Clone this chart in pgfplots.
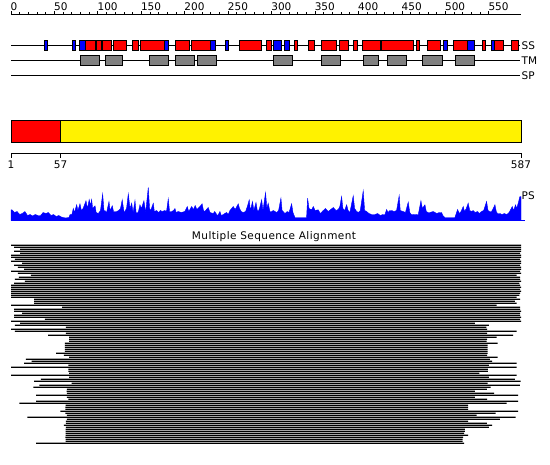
\documentclass[border=0pt]{standalone}
\usepackage{pgfplots}
\pgfplotsset{compat=1.18}
\usepackage{pgfplotstable}
\usepackage{fontspec}
\setmainfont{DejaVu Sans}

\pgfplotstableread{
res h
0 10.7
1 10.7
4 8
7 9
10 6
13 7
16 9
19 5
22 6
25 4.5
28 6
31 5
34 5
37 8
40 7
43 8
46 5
49 6
52 4
55 5
58 3.5
60 3
63 2.5
66.7 3
68 6
70 5.7
71.7 12
73 8
75.6 15.7
77 10
79.4 16.7
81 10
83 12
86.3 19.7
88 12
90 21
91.5 15
92.8 21
94 12
96.7 14.7
98 8
100.5 7
103 10
105.5 26.7
107 10
108 10
110 8
112.8 19
114 10
116.6 14.7
118 9
121.6 9
124 10
126 12
128 20.7
130 9
131 9
133 12
135 26.7
137 12
138.9 17.3
140.5 8
142.7 20
144 8
145.4 7
147 10
148.4 15.7
150 12
153 19.7
155 8
158 33
159.5 12
160.7 10
162 13
163.8 17.3
165 9
167.6 10
170 8
172 10
174 9
177 10
179 9
181 21.7
182.5 9
185 9
187 10
188.7 12
190 8
192.5 9
196 8
200 9
202.9 14
204.5 9
206 11
207.9 14
210 11
212 15
214 11
217.5 14
220 16.7
221.5 10
223 9
225 11
227 13
229 8
232.8 7
234.5 9
236.7 6
238 5
240.5 9
242 5
244.3 6
246 7
248.2 8
250 6
252 10
255.8 14
258 11
261.6 16.7
263 12
265 9
267.3 8
270 9
272 14
274.2 20.7
275.5 10
278 19
279.5 10
282 18
283.5 10
284.6 9
286 12
288.5 20.7
290 10
293 28
294.5 12
296 17.3
298 9
300 9
302 10
303.8 9
306 8
308 10
310.7 22.3
312 10
315.3 7
318 9
320 8
323 16.7
324.5 8
326.8 3
330 3
335 3
340.2 3
341.4 22.3
343 12
346 10.7
348 14
350 10
353.6 10.7
356 7
359.4 10
362 12
365 9
368 11
371 13
374 10
376.6 11
378.5 14
380.5 24
382 12
384 10
386.3 15.7
388 10
390 8
393.9 24.7
395.5 12
397.8 9
400 8
402 10
405.4 29.7
407 10
409.3 9
412 7
415 6
418.9 6
422 7
425 5
428 6
430.4 6
432.3 11
434 8
436 10
438 10
441 9
443.8 10
446.8 25
448 10
451.4 9
454 8
457.2 18.3
459 8
461 5.7
465 6
468.7 5.7
471.8 19.7
473.5 12
476.4 15.7
478 9
480 8
482.1 8
486 9
490 7
493 8
495.6 8
497 5
499.4 3
505 3
510.9 3
514 11
516 7
518 9
520.5 14
522 9
524 12
526.2 17.3
528 10
530 9
532 10
534 8
537 9
539 7
541.6 9
544 10
547.4 19
549 10
551 9
553.1 9
555 12
557 15.7
558.5 9
560 7
562.7 7
565 6
568 7
570 6
572.3 7
574 9
576.9 14
578.5 10
580.7 15.7
582 12
584 18
585.7 24
587 24
}\psdata

\pgfplotstableread{
row start end
1 0 587
2 3.5 587
3 10.4 587
4 3.5 587
5 10.4 586
6 0 587
7 0 587
8 4.6 586
9 0 587
10 12.7 587
11 3.5 586
12 8 587
13 15 587
14 0 586
15 8 587
16 23 582
17 9 586
18 4.6 586
19 16 587
20 3.5 585
21 0 586
22 0 587
23 0 586
24 0 587
25 0 586
26 0 585
27 0 582
28 26.5 586
29 26.5 580
30 26.5 582
31 0 559
32 58.7 586
33 3.5 586
34 3.5 587
35 12.7 586
36 3.5 586
37 3.5 587
38 39 586
39 0 587
40 10.4 534
41 4.6 550
42 63.3 547
43 0 548
44 4.6 582
45 63.3 548
46 42.6 578
47 67 559
48 67 548
49 67 547.4
50 62 560
51 62 548.5
52 62 548.5
53 62 548.5
54 62 548.5
55 52 548.5
56 61 548
57 67 560
58 17 551.2
59 23.8 553.8
60 15 582
61 66 550
62 0 582
63 66 549
64 66 549
65 67 539
66 0 582
67 67 550
68 34.5 580
69 26.5 586.5
70 69.8 548.5
71 32.6 585.7
72 25.7 552
73 64.4 547.7
74 64 534
75 64.4 556
76 29 583.8
77 64.4 534
78 66 548
79 29 583.8
80 9.6 570.4
81 63 526
82 62.5 526
83 62.5 526
84 56.7 583.8
85 62.5 557.7
86 64.4 536
87 18.8 580.7
88 64.4 562.7
89 63.3 526
90 63.3 547.7
91 61 553.8
92 63.3 550
93 63 522.4
94 63 522.4
95 63 521.6
96 63 526
97 62.5 520.5
98 63 519.8
99 63 519.8
100 29 521.6
}\msadata

\begin{document}
\begin{tikzpicture}
\path[use as bounding box] (0,0) rectangle (550bp,-465bp);
\pgfplotsset{base/.style={scale only axis, width=510bp, xmin=0, xmax=587, clip=false,
  /pgf/number format/assume math mode=true,
  tick label style={font=\fontsize{10.5bp}{12bp}\selectfont}}}

% top ruler
\begin{axis}[base, at={(11bp,-14.7bp)}, anchor=north west, height=5bp, ymin=0, ymax=1,
  axis x line=top, axis y line=none, axis line style={-, line width=0.8bp},
  tick align=outside, xtick={0,50,...,550}, minor x tick num=4,
  major tick length=3.7bp, minor tick length=2.3bp, tick style={black, line width=0.8bp},
  xticklabel style={anchor=south west, inner sep=0pt, xshift=-0.5bp}]
\end{axis}

% SS / TM / SP tracks
\begin{axis}[base, at={(11bp,-37.8bp)}, anchor=north west, height=45bp, ymin=0.5, ymax=3.5,
  hide x axis, axis y line=right, y axis line style={draw=none}, ytick={1,2,3},
  yticklabels={SP,TM,SS}, major tick length=0pt,
  yticklabel style={anchor=west, inner sep=0pt, xshift=0.5bp}]
\addplot[black, line width=0.8bp] coordinates {(0,3) (586,3)};
\addplot[black, line width=0.8bp] coordinates {(0,2) (586,2)};
\addplot[black, line width=0.8bp] coordinates {(0,1) (586,1)};
% SS helix (red)
\addplot[fill=red, draw=black, line width=0.7bp] coordinates {(85,2.69) (97.5,2.69) (97.5,3.31) (85,3.31)} --cycle;
\addplot[fill=red, draw=black, line width=0.7bp] coordinates {(98.6,2.69) (104.4,2.69) (104.4,3.31) (98.6,3.31)} --cycle;
\addplot[fill=red, draw=black, line width=0.7bp] coordinates {(105.5,2.69) (116,2.69) (116,3.31) (105.5,3.31)} --cycle;
\addplot[fill=red, draw=black, line width=0.7bp] coordinates {(118,2.69) (133,2.69) (133,3.31) (118,3.31)} --cycle;
\addplot[fill=red, draw=black, line width=0.7bp] coordinates {(139.6,2.69) (146.5,2.69) (146.5,3.31) (139.6,3.31)} --cycle;
\addplot[fill=red, draw=black, line width=0.7bp] coordinates {(148.8,2.69) (176.4,2.69) (176.4,3.31) (148.8,3.31)} --cycle;
\addplot[fill=red, draw=black, line width=0.7bp] coordinates {(188.7,2.69) (205.6,2.69) (205.6,3.31) (188.7,3.31)} --cycle;
\addplot[fill=red, draw=black, line width=0.7bp] coordinates {(207.5,2.69) (229.4,2.69) (229.4,3.31) (207.5,3.31)} --cycle;
\addplot[fill=red, draw=black, line width=0.7bp] coordinates {(262.7,2.69) (288.5,2.69) (288.5,3.31) (262.7,3.31)} --cycle;
\addplot[fill=red, draw=black, line width=0.7bp] coordinates {(293.8,2.69) (300,2.69) (300,3.31) (293.8,3.31)} --cycle;
\addplot[fill=red, draw=black, line width=0.7bp] coordinates {(326,2.69) (330,2.69) (330,3.31) (326,3.31)} --cycle;
\addplot[fill=red, draw=black, line width=0.7bp] coordinates {(342,2.69) (349,2.69) (349,3.31) (342,3.31)} --cycle;
\addplot[fill=red, draw=black, line width=0.7bp] coordinates {(357.5,2.69) (374.8,2.69) (374.8,3.31) (357.5,3.31)} --cycle;
\addplot[fill=red, draw=black, line width=0.7bp] coordinates {(377.8,2.69) (388.6,2.69) (388.6,3.31) (377.8,3.31)} --cycle;
\addplot[fill=red, draw=black, line width=0.7bp] coordinates {(394,2.69) (398.5,2.69) (398.5,3.31) (394,3.31)} --cycle;
\addplot[fill=red, draw=black, line width=0.7bp] coordinates {(404.3,2.69) (424.6,2.69) (424.6,3.31) (404.3,3.31)} --cycle;
\addplot[fill=red, draw=black, line width=0.7bp] coordinates {(426.5,2.69) (463,2.69) (463,3.31) (426.5,3.31)} --cycle;
\addplot[fill=red, draw=black, line width=0.7bp] coordinates {(466.4,2.69) (470.3,2.69) (470.3,3.31) (466.4,3.31)} --cycle;
\addplot[fill=red, draw=black, line width=0.7bp] coordinates {(479,2.69) (494.5,2.69) (494.5,3.31) (479,3.31)} --cycle;
\addplot[fill=red, draw=black, line width=0.7bp] coordinates {(509.4,2.69) (525,2.69) (525,3.31) (509.4,3.31)} --cycle;
\addplot[fill=red, draw=black, line width=0.7bp] coordinates {(542.4,2.69) (546.3,2.69) (546.3,3.31) (542.4,3.31)} --cycle;
\addplot[fill=red, draw=black, line width=0.7bp] coordinates {(555.8,2.69) (566.5,2.69) (566.5,3.31) (555.8,3.31)} --cycle;
\addplot[fill=red, draw=black, line width=0.7bp] coordinates {(575.7,2.69) (584.2,2.69) (584.2,3.31) (575.7,3.31)} --cycle;
% SS strand (blue)
\addplot[fill=blue, draw=black, line width=0.7bp] coordinates {(38,2.69) (42,2.69) (42,3.31) (38,3.31)} --cycle;
\addplot[fill=blue, draw=black, line width=0.7bp] coordinates {(70.6,2.69) (74.4,2.69) (74.4,3.31) (70.6,3.31)} --cycle;
\addplot[fill=blue, draw=black, line width=0.7bp] coordinates {(78.6,2.69) (85,2.69) (85,3.31) (78.6,3.31)} --cycle;
\addplot[fill=blue, draw=black, line width=0.7bp] coordinates {(176.4,2.69) (181,2.69) (181,3.31) (176.4,3.31)} --cycle;
\addplot[fill=blue, draw=black, line width=0.7bp] coordinates {(229.4,2.69) (235.5,2.69) (235.5,3.31) (229.4,3.31)} --cycle;
\addplot[fill=blue, draw=black, line width=0.7bp] coordinates {(246.6,2.69) (250.5,2.69) (250.5,3.31) (246.6,3.31)} --cycle;
\addplot[fill=blue, draw=black, line width=0.7bp] coordinates {(301.5,2.69) (310.7,2.69) (310.7,3.31) (301.5,3.31)} --cycle;
\addplot[fill=blue, draw=black, line width=0.7bp] coordinates {(314.5,2.69) (320.7,2.69) (320.7,3.31) (314.5,3.31)} --cycle;
\addplot[fill=blue, draw=black, line width=0.7bp] coordinates {(498,2.69) (502,2.69) (502,3.31) (498,3.31)} --cycle;
\addplot[fill=blue, draw=black, line width=0.7bp] coordinates {(525,2.69) (533,2.69) (533,3.31) (525,3.31)} --cycle;
\addplot[fill=blue, draw=black, line width=0.7bp] coordinates {(553,2.69) (555.8,2.69) (555.8,3.31) (553,3.31)} --cycle;
% TM (gray)
\addplot[fill=gray, draw=black, line width=0.7bp] coordinates {(79.8,1.67) (102,1.67) (102,2.33) (79.8,2.33)} --cycle;
\addplot[fill=gray, draw=black, line width=0.7bp] coordinates {(108.5,1.67) (128.5,1.67) (128.5,2.33) (108.5,2.33)} --cycle;
\addplot[fill=gray, draw=black, line width=0.7bp] coordinates {(159,1.67) (181,1.67) (181,2.33) (159,2.33)} --cycle;
\addplot[fill=gray, draw=black, line width=0.7bp] coordinates {(189,1.67) (211,1.67) (211,2.33) (189,2.33)} --cycle;
\addplot[fill=gray, draw=black, line width=0.7bp] coordinates {(214.4,1.67) (236.7,1.67) (236.7,2.33) (214.4,2.33)} --cycle;
\addplot[fill=gray, draw=black, line width=0.7bp] coordinates {(302,1.67) (324,1.67) (324,2.33) (302,2.33)} --cycle;
\addplot[fill=gray, draw=black, line width=0.7bp] coordinates {(357,1.67) (379.4,1.67) (379.4,2.33) (357,2.33)} --cycle;
\addplot[fill=gray, draw=black, line width=0.7bp] coordinates {(405,1.67) (423,1.67) (423,2.33) (405,2.33)} --cycle;
\addplot[fill=gray, draw=black, line width=0.7bp] coordinates {(433,1.67) (455,1.67) (455,2.33) (433,2.33)} --cycle;
\addplot[fill=gray, draw=black, line width=0.7bp] coordinates {(474,1.67) (497,1.67) (497,2.33) (474,2.33)} --cycle;
\addplot[fill=gray, draw=black, line width=0.7bp] coordinates {(511,1.67) (533.6,1.67) (533.6,2.33) (511,2.33)} --cycle;
\end{axis}

% domain bar
\begin{axis}[base, at={(11bp,-120.5bp)}, anchor=north west, height=22bp, ymin=0, ymax=1, hide axis]
\addplot[fill=red, draw=black, line width=0.8bp] coordinates {(0,0) (57,0) (57,1) (0,1)} --cycle;
\addplot[fill=yellow, draw=black, line width=0.8bp] coordinates {(57,0) (587,0) (587,1) (57,1)} --cycle;
\end{axis}

% bottom ruler
\begin{axis}[base, at={(11bp,-153bp)}, anchor=south west, height=5bp, ymin=0, ymax=1,
  axis x line=bottom, axis y line=none, axis line style={-, line width=0.8bp},
  tick align=outside, xtick={0,57,587}, xticklabels={1,57,587},
  major tick length=4.5bp, tick style={black, line width=0.8bp},
  xticklabel style={anchor=north, inner sep=0pt, yshift=-3bp}]
\end{axis}

% PS profile
\begin{axis}[base, at={(11bp,-220.5bp)}, anchor=south west, height=35bp, ymin=0, ymax=35,
  hide x axis, axis y line=right, y axis line style={draw=none}, ytick={24.5},
  yticklabels={PS}, major tick length=0pt,
  yticklabel style={anchor=west, inner sep=0pt, xshift=0.5bp}]
\addplot[fill=blue, draw=blue, line width=0.4bp] table[x=res, y=h] {\psdata} \closedcycle;
\addplot[blue, line width=0.8bp] coordinates {(0,0) (592,0)};
\end{axis}

% MSA
\begin{axis}[base, at={(11bp,-244.3bp)}, anchor=north west, height=200bp,
  ymin=0.5, ymax=100.5, y dir=reverse, hide axis, xbar stacked, bar width=1.2bp,
  title={\addfontfeature{LetterSpace=4}Multiple Sequence Alignment},
  title style={font=\fontsize{10.5bp}{12bp}\selectfont, inner sep=0pt, anchor=south,
    at={(0.5,1)}, yshift=-4bp, xshift=8bp}]
\addplot[draw=none, fill=none] table[x=start, y=row] {\msadata};
\addplot[fill=black, draw=none] table[x expr=\thisrow{end}-\thisrow{start}, y=row] {\msadata};
\end{axis}
\end{tikzpicture}
\end{document}
